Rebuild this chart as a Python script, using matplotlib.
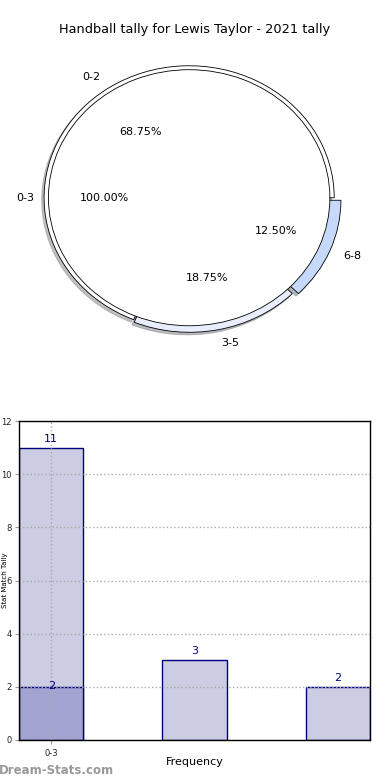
import matplotlib
matplotlib.use('Agg')
import matplotlib.pyplot as plt
import numpy as np

# data
ring_labels = ['0-2', '3-5', '6-8']
ring_counts = [11, 3, 2]
inner_labels = ['0-3']
inner_counts = [2]
bar_counts = [11, 3, 2]
bar_highlight = [2]
bar_ticklabels = ['0-3']

fig = plt.figure(figsize=(3.9, 7.8), dpi=100)
shadow = dict(ox=-0.012, oy=-0.014, shade=0.5)

# pie part
ax1 = fig.add_axes([0.02, 0.535, 0.93, 0.423])
ax1.pie(ring_counts, labels=ring_labels, autopct='%1.2f%%', startangle=0,
        explode=[0, 0.02, 0.05], shadow=shadow,
        colors=['#ffffff', '#e8eefd', '#c6d9fb'],
        wedgeprops=dict(edgecolor='black', linewidth=0.6),
        textprops=dict(fontsize=8))
ax1.pie(inner_counts, labels=inner_labels, autopct='%1.2f%%', startangle=0,
        radius=0.97, shadow=shadow, colors=['#ffffff'],
        wedgeprops=dict(edgecolor='black', linewidth=0.6),
        textprops=dict(fontsize=8))
ax1.set_aspect('auto')
ax1.set_xlim(-1.25, 1.25)
ax1.set_ylim(-1.25, 1.25)
fig.text(0.5, 0.954, 'Handball tally for Lewis Taylor - 2021 tally', fontsize=9.3,
         ha='center', va='bottom')

# bar part
ax2 = fig.add_axes([0.0487, 0.0513, 0.9003, 0.4087])
x = np.arange(len(bar_counts))
w = 0.45
b1 = ax2.bar(x, bar_counts, w, color='#ccccE3', edgecolor='#000080', linewidth=1, zorder=2)
b2 = ax2.bar(x[:len(bar_highlight)], bar_highlight, w, color='#a3a3d1',
             edgecolor='#000080', linewidth=1, zorder=2)
for rect, v in zip(b1, bar_counts):
    ax2.text(rect.get_x() + rect.get_width() / 2, v + 0.15, str(v),
             ha='center', va='bottom', color='#000080', fontsize=8, zorder=3)
for rect, v in zip(b2, bar_highlight):
    ax2.text(rect.get_x() + rect.get_width() / 2, v - 0.15, str(v),
             ha='center', va='bottom', color='#000080', fontsize=8, zorder=3)
ax2.set_xlim(-w / 2, len(bar_counts) - 1 + w / 2)
ax2.set_ylim(0, 12)
ax2.set_yticks(range(0, 13, 2))
ax2.set_xticks(x[:len(bar_ticklabels)])
ax2.set_xticklabels(bar_ticklabels)
ax2.tick_params(labelsize=6, color='#999999', length=3, labelcolor='#222222')
ax2.tick_params(axis='y', pad=2)
ax2.grid(True, linestyle=':', color='#aaaaaa', linewidth=1)
ax2.set_axisbelow(False)
ax2.set_xlabel('Frequency', fontsize=8, labelpad=-1)
ax2.set_ylabel('Stat Match Tally', fontsize=5)
ax2.yaxis.set_label_coords(-0.031, 0.5)
for s in ax2.spines.values():
    s.set_linewidth(1.0)
    s.set_zorder(4)

fig.text(-0.003, 0.004, 'Dream-Stats.com', fontsize=8.5, fontweight='bold',
         color='#999999', ha='left', va='bottom')

fig.savefig('out.png', dpi=100)
